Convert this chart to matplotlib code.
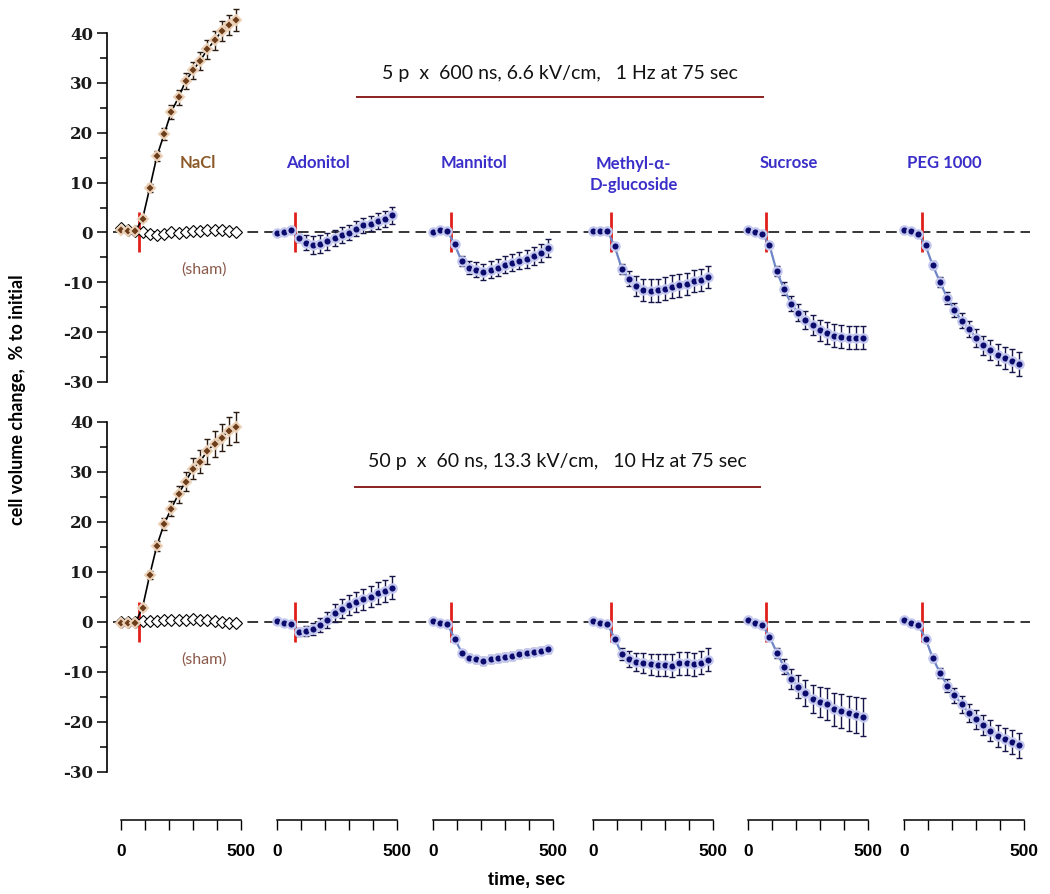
import numpy as np
import matplotlib
matplotlib.use("Agg")
import matplotlib.pyplot as plt
from matplotlib.lines import Line2D

plt.rcParams['axes.unicode_minus'] = False

# sampling times (sec); pulses delivered at 75 sec
time = [0, 30, 60, 90, 120, 150, 180, 210, 240, 270, 300, 330, 360, 390, 420, 450, 480]
pulse_t = 75

groups = ['NaCl', 'Adonitol', 'Mannitol', 'Methyl-\u03b1-\nD-glucoside', 'Sucrose', 'PEG 1000']

# top row: 5 p x 600 ns, 6.6 kV/cm, 1 Hz
top_nacl = [0.4, 0.3, 0.3, 2.7, 8.9, 15.3, 19.7, 24.2, 27.1, 30.4, 32.5, 34.4, 36.7, 38.5, 40.4, 41.6, 42.7]
top_sham = [0.8, 0.5, 0.2, 0.0, -0.3, -0.5, -0.3, 0.0, -0.2, 0.1, 0.3, 0.3, 0.4, 0.4, 0.5, 0.3, 0.0]
top_adon = [-0.1, 0.1, 0.4, -1.1, -2.1, -2.5, -2.3, -1.8, -1.1, -0.6, -0.1, 0.7, 1.4, 1.7, 2.3, 2.7, 3.4]
top_mann = [0.1, 0.4, 0.3, -2.4, -5.8, -7.1, -7.5, -7.9, -7.5, -7.1, -6.5, -6.1, -5.7, -5.3, -4.8, -4.1, -3.1]
top_meth = [0.3, 0.3, 0.3, -2.8, -7.3, -9.3, -10.8, -11.5, -11.7, -11.6, -11.3, -10.9, -10.6, -10.3, -9.8, -9.5, -8.9]
top_sucr = [0.5, 0.0, -0.3, -2.6, -7.8, -11.3, -14.3, -16.1, -17.5, -18.6, -19.6, -20.1, -20.7, -20.9, -21.1, -21.1, -21.1]
top_peg = [0.5, 0.2, -0.3, -2.6, -6.6, -9.9, -13.1, -15.5, -17.7, -19.3, -21.1, -22.6, -23.6, -24.5, -25.1, -25.7, -26.3]

top_nacl_err = [0.3, 0.3, 0.3, 0.5, 0.8, 1.0, 1.2, 1.4, 1.5, 1.6, 1.7, 1.8, 1.9, 2.0, 2.0, 2.1, 2.2]
top_adon_err = [0.3, 0.3, 0.3, 0.8, 1.5, 1.8, 1.8, 1.7, 1.6, 1.6, 1.5, 1.5, 1.5, 1.5, 1.6, 1.6, 1.7]
top_mann_err = [0.3, 0.3, 0.3, 0.5, 1.0, 1.3, 1.5, 1.6, 1.7, 1.7, 1.7, 1.7, 1.7, 1.8, 1.8, 1.8, 1.8]
top_meth_err = [0.3, 0.3, 0.3, 0.6, 1.0, 1.5, 2.0, 2.2, 2.3, 2.3, 2.3, 2.3, 2.3, 2.2, 2.2, 2.2, 2.2]
top_sucr_err = [0.3, 0.3, 0.3, 0.5, 1.0, 1.3, 1.5, 1.7, 1.8, 2.0, 2.1, 2.2, 2.3, 2.3, 2.3, 2.3, 2.3]
top_peg_err = [0.3, 0.3, 0.3, 0.5, 0.8, 1.0, 1.2, 1.4, 1.5, 1.6, 1.8, 1.9, 2.0, 2.1, 2.2, 2.3, 2.4]

# bottom row: 50 p x 60 ns, 13.3 kV/cm, 10 Hz
bot_nacl = [-0.1, -0.1, -0.2, 2.9, 9.4, 15.3, 19.6, 22.7, 25.6, 28.1, 30.7, 32.1, 34.2, 35.7, 36.9, 38.3, 39.1]
bot_sham = [0.0, 0.0, 0.0, 0.2, 0.3, 0.3, 0.4, 0.5, 0.4, 0.5, 0.7, 0.5, 0.4, 0.3, 0.1, -0.1, -0.2]
bot_adon = [0.3, -0.2, -0.4, -1.9, -1.7, -1.4, -0.6, 0.5, 1.9, 2.7, 3.4, 4.1, 4.6, 5.1, 5.8, 6.3, 6.9]
bot_mann = [0.3, -0.2, -0.4, -3.3, -6.1, -7.1, -7.4, -7.7, -7.4, -7.2, -6.9, -6.7, -6.4, -6.1, -5.9, -5.7, -5.4]
bot_meth = [0.3, -0.1, -0.4, -3.3, -6.4, -7.4, -7.9, -8.2, -8.4, -8.6, -8.6, -8.7, -8.2, -8.2, -8.4, -8.1, -7.5]
bot_sucr = [0.4, -0.2, -0.6, -2.9, -6.1, -8.9, -11.3, -12.9, -14.1, -15.3, -15.9, -16.4, -17.4, -17.7, -18.2, -18.6, -18.9]
bot_peg = [0.4, -0.2, -0.6, -3.3, -7.2, -10.1, -12.7, -14.6, -16.4, -18.2, -19.4, -20.6, -21.7, -22.7, -23.4, -23.9, -24.6]

bot_nacl_err = [0.3, 0.3, 0.3, 0.5, 0.8, 1.0, 1.2, 1.5, 1.7, 1.9, 2.1, 2.3, 2.5, 2.6, 2.7, 2.8, 3.0]
bot_adon_err = [0.3, 0.3, 0.3, 0.8, 1.0, 1.2, 1.4, 1.6, 1.8, 1.9, 2.0, 2.0, 2.1, 2.1, 2.2, 2.2, 2.3]
bot_mann_err = [0.3, 0.3, 0.3, 0.5, 0.6, 0.7, 0.7, 0.8, 0.8, 0.8, 0.8, 0.8, 0.8, 0.8, 0.7, 0.7, 0.7]
bot_meth_err = [0.3, 0.3, 0.3, 0.6, 1.2, 1.6, 1.8, 2.0, 2.1, 2.2, 2.2, 2.3, 2.3, 2.3, 2.3, 2.3, 2.3]
bot_sucr_err = [0.3, 0.3, 0.3, 0.6, 1.0, 1.5, 2.0, 2.3, 2.6, 2.8, 3.0, 3.2, 3.3, 3.4, 3.5, 3.6, 3.8]
bot_peg_err = [0.3, 0.3, 0.3, 0.5, 0.8, 1.0, 1.3, 1.5, 1.7, 1.8, 1.9, 2.0, 2.1, 2.2, 2.3, 2.4, 2.5]

top_title = '5 p  x  600 ns, 6.6 kV/cm,   1 Hz at 75 sec'
bot_title = '50 p  x  60 ns, 13.3 kV/cm,   10 Hz at 75 sec'

# where each group's 0 sec sits along the shared row axis (in sec units)
offsets = [0, 650, 1300, 1967, 2612, 3262]
XMIN, XMAX = -58, 3829

BROWN = '#6b3d1a'
NAVY = '#0b0b6e'
LBLUE = '#6f86c6'
TXT_BROWN = '#8c5a28'
TXT_BLUE = '#3b2fc9'

fig = plt.figure(figsize=(10.5, 8.94), dpi=100)
ax_left, ax_w = 107 / 1050, (1040 - 107) / 1050
ax_top = fig.add_axes([ax_left, (894 - 382) / 894, ax_w, 349 / 894])
ax_bot = fig.add_axes([ax_left, (894 - 772) / 894, ax_w, 350 / 894])


def no_clip(container):
    for part in container.lines:
        if part is None:
            continue
        items = part if isinstance(part, tuple) else (part,)
        for it in items:
            it.set_clip_on(False)


def draw_row(ax, nacl, nacl_err, sham, others, others_err):
    t = np.array(time)
    ax.axhline(0, xmin=0.006, xmax=0.989, color='black', lw=1.1, dashes=(7, 4), zorder=1)
    for off in offsets:
        ax.vlines(off + pulse_t, -4, 4, color='#e0201a', lw=2, zorder=2)
    # sham
    ax.plot(t + offsets[0], sham, marker='D', ms=6.5, mfc='white', mec='black', mew=0.8,
            ls='none', zorder=4)
    # NaCl
    eb = ax.errorbar(t + offsets[0], nacl, yerr=nacl_err, fmt='none', ecolor='#2a1a10',
                     elinewidth=1, capsize=2.5, capthick=1, zorder=3)
    no_clip(eb)
    ax.plot(t + offsets[0], nacl, color='black', lw=1.2, marker='D', ms=5.5, mfc=BROWN,
            mec='#ecd2b8', mew=1.5, zorder=5, clip_on=False)
    for i, (vals, err) in enumerate(zip(others, others_err), start=1):
        x = t + offsets[i]
        ax.errorbar(x, vals, yerr=err, fmt='none', ecolor='#15154a', elinewidth=1,
                    capsize=2.5, capthick=1, zorder=3)
        ax.plot(x, vals, color=LBLUE, lw=1.6, marker='o', ms=6, mfc=NAVY,
                mec='#c4c8ee', mew=1.6, zorder=5)
    ax.set_xlim(XMIN, XMAX)
    ax.set_ylim(-30, 40)
    for s in ['top', 'right', 'bottom']:
        ax.spines[s].set_visible(False)
    ax.spines['left'].set_linewidth(1.2)
    ax.set_xticks([])
    ax.set_yticks(range(-30, 41, 10))
    ax.set_yticks(range(-25, 40, 10), minor=True)
    ax.tick_params(axis='y', which='major', length=7, width=1.1, pad=3)
    ax.tick_params(axis='y', which='minor', length=5, width=1.1)
    for lab in ax.get_yticklabels():
        lab.set_fontfamily('DejaVu Serif')
        lab.set_fontweight('bold')
        lab.set_fontsize(12)
        lab.set_color('#1a1a1a')
    ax.patch.set_alpha(0)


draw_row(ax_top, top_nacl, top_nacl_err, top_sham,
         [top_adon, top_mann, top_meth, top_sucr, top_peg],
         [top_adon_err, top_mann_err, top_meth_err, top_sucr_err, top_peg_err])
draw_row(ax_bot, bot_nacl, bot_nacl_err, bot_sham,
         [bot_adon, bot_mann, bot_meth, bot_sucr, bot_peg],
         [bot_adon_err, bot_mann_err, bot_meth_err, bot_sucr_err, bot_peg_err])

# group names (top row only)
label_fam = ['Lato', 'DejaVu Sans']
for i, name in enumerate(groups):
    col = TXT_BROWN if i == 0 else TXT_BLUE
    xc = offsets[i] + 320 if i == 0 else offsets[i] + 170
    yv = 14 if '\n' not in name else 11.6
    ax_top.text(xc, yv, name, ha='center', va='center', fontsize=12, fontweight='bold',
                color=col, family=label_fam, linespacing=1.35)
for ax in (ax_top, ax_bot):
    ax.text(offsets[0] + 345, -7.5, '(sham)', ha='center', va='center', fontsize=11.5,
            color='#8a5a4a', family=label_fam)

# protocol titles with underline
fig.text(560 / 1050, 1 - 73 / 894, top_title, ha='center', va='center', fontsize=14,
         family=label_fam, color='#111111')
fig.add_artist(Line2D([357 / 1050, 763 / 1050], [1 - 97 / 894] * 2, color='#8b2020', lw=1.4))
fig.text(557 / 1050, 1 - 462 / 894, bot_title, ha='center', va='center', fontsize=14,
         family=label_fam, color='#111111')
fig.add_artist(Line2D([355 / 1050, 760 / 1050], [1 - 487 / 894] * 2, color='#8b2020', lw=1.4))

fig.text(18 / 1050, 1 - 400 / 894, 'cell volume change,  % to initial', rotation=90,
         ha='center', va='center', fontsize=13, fontweight='bold', family=label_fam)

# separate time scales under each group
narrow = ['Liberation Sans']
for off in offsets:
    x0 = ax_left + (off - XMIN) / (XMAX - XMIN) * ax_w
    w = 500 / (XMAX - XMIN) * ax_w
    tax = fig.add_axes([x0, (894 - 820) / 894, w, 0.001])
    tax.set_xlim(0, 500)
    tax.set_yticks([])
    for s in ['top', 'right', 'left']:
        tax.spines[s].set_visible(False)
    tax.spines['bottom'].set_linewidth(1.1)
    tax.set_xticks([0, 100, 200, 300, 400, 500])
    tax.set_xticklabels(['0', '', '', '', '', '500'])
    tax.tick_params(axis='x', length=7, width=1, pad=10)
    for lab in tax.get_xticklabels():
        lab.set_fontfamily(narrow)
        lab.set_fontweight('bold')
        lab.set_fontsize(12.5)
    tax.patch.set_alpha(0)

fig.text(527 / 1050, 1 - 881 / 894, 'time, sec', ha='center', va='center', fontsize=13,
         fontweight='bold', family=narrow)

fig.savefig('out.png', dpi=100)
